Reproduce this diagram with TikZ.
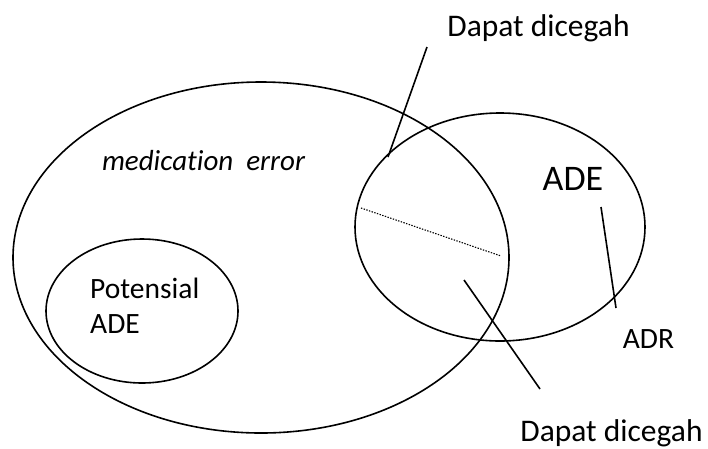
\documentclass[tikz,border=0pt]{standalone}
\usepackage{fontspec}
\setmainfont{Carlito}[Ligatures={NoCommon}]
\begin{document}
\begin{tikzpicture}[x=1pt,y=-1pt,
  set/.style={draw=black,line width=1.6pt},
  leader/.style={draw=black,line width=1.6pt},
  divider/.style={draw=black,line width=1.1pt,dash pattern=on 1.4pt off 1.4pt},
  lbl/.style={inner sep=0pt,anchor=base,font=\fontsize{31.5}{36}\selectfont},
  lblsmall/.style={inner sep=0pt,anchor=base,font=\fontsize{29.5}{34}\selectfont}]
  \useasboundingbox (0,0) rectangle (708,448);

  % sets
  \draw[set] (261,257.5) ellipse [x radius=248, y radius=175.5];
  \draw[set] (500,227) ellipse [x radius=145, y radius=114];
  \draw[set] (142,311) ellipse [x radius=96, y radius=72];

  % labels
  \node[lbl] (dtop) at (538.5,36) {Dapat dicegah};
  \node[lbl] (dbot) at (611.5,441) {Dapat dicegah};
  \node[lblsmall,font=\fontsize{29}{34}\selectfont\itshape] (me) at (203.5,170) {medication\ \ error};
  \node[lblsmall,anchor=base west] (pot) at (90,298) {Potensial};
  \node[lblsmall,anchor=base west] (pade) at (90,333) {ADE};
  \node[lbl,font=\fontsize{36}{40}\selectfont] (ade) at (573,190) {ADE};
  \node[lblsmall] (adr) at (648.5,348) {ADR};

  % leader line ends
  \coordinate (t1) at (427,47);
  \coordinate (t2) at (388,157);
  \coordinate (r1) at (601,207);
  \coordinate (r2) at (616,308);
  \coordinate (b1) at (464,280);
  \coordinate (b2) at (540,389);
  \coordinate (s1) at (361,208);
  \coordinate (s2) at (501,256);

  \draw[leader] (t1) -- (t2);
  \draw[leader] (r1) -- (r2);
  \draw[leader] (b1) -- (b2);
  \draw[divider] (s1) -- (s2);
\end{tikzpicture}
\end{document}
